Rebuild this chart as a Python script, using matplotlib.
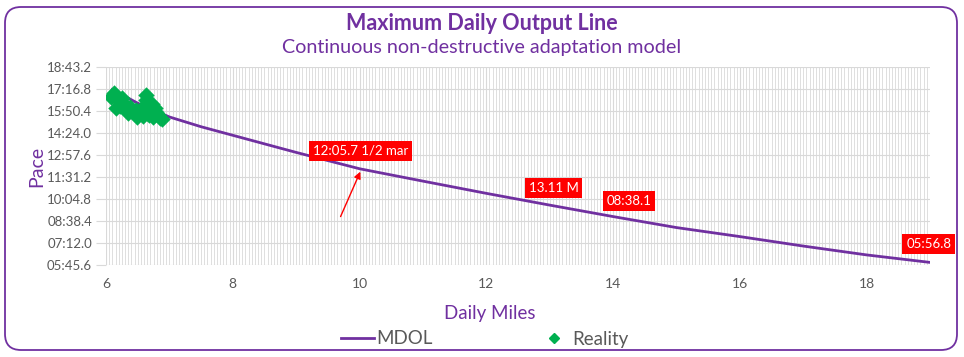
import numpy as np
import matplotlib.pyplot as plt
from matplotlib.ticker import FuncFormatter, MultipleLocator, FixedLocator
from matplotlib.patches import FancyBboxPatch
from matplotlib.lines import Line2D
from matplotlib.transforms import IdentityTransform

plt.rcParams['font.family'] = ['Lato', 'DejaVu Sans']

# MDOL line: daily miles vs pace (minutes per mile)
mdol_miles = [6.1, 6.5, 7.0, 7.5, 8.0, 8.74, 9.0, 10.0, 11.0, 12.0, 13.0, 14.0, 15.0, 16.0, 17.0, 18.0, 19.0]
mdol_pace = [17.25, 16.35, 15.45, 14.81, 14.25, 13.42, 13.13, 12.06, 11.25, 10.45, 9.68, 8.93, 8.21, 7.62, 7.0, 6.42, 5.93]

# Reality: observed daily miles vs pace
real_miles = [6.08, 6.13, 6.16, 6.19, 6.22, 6.25, 6.28, 6.33, 6.35, 6.38, 6.43, 6.47, 6.49,
              6.52, 6.57, 6.58, 6.60, 6.63, 6.63, 6.65, 6.68, 6.69, 6.72, 6.74, 6.77, 6.79,
              6.82, 6.85, 6.88]
real_pace = [16.76, 17.02, 16.04, 16.56, 16.17, 16.69, 16.30, 15.97, 15.71, 16.10, 15.77, 15.91, 15.45,
             15.71, 15.84, 15.51, 16.17, 16.56, 16.89, 15.71, 15.58, 16.04, 16.30, 15.45, 16.04, 15.77,
             15.58, 15.38, 15.32]

# data labels
label_miles = [10.02, 13.06, 14.25, 18.98]
label_texts = ['12:05.7 1/2 mar', '13.11 M', '08:38.1', '05:56.8']

purple = '#7030A0'
green = '#00B050'
grey = '#595959'
gridc = '#D9D9D9'

y_ticks = [5.76 + 1.44 * i for i in range(10)]


def pace_fmt(v, pos):
    m = int(v + 1e-9)
    s = (v - m) * 60
    return '%02d:%04.1f' % (m, abs(s))


fig = plt.figure(figsize=(9.64, 3.57), dpi=100)
ax = fig.add_axes([106 / 964, 1 - 265 / 357, 824 / 964, 198 / 357])

ax.plot(mdol_miles, mdol_pace, color=purple, lw=2, zorder=3)
ax.scatter(real_miles, real_pace, marker='D', s=70, color=green, linewidths=0, zorder=4)

ax.set_xlim(6, 19)
ax.set_ylim(5.76, 18.72)
ax.yaxis.set_major_locator(FixedLocator(y_ticks))
ax.yaxis.set_major_formatter(FuncFormatter(pace_fmt))
ax.xaxis.set_major_locator(MultipleLocator(2))
ax.xaxis.set_minor_locator(MultipleLocator(0.05))

ax.grid(which='major', axis='both', color=gridc, lw=0.8, zorder=0)
ax.grid(which='minor', axis='x', color=gridc, lw=0.6, zorder=0)
for sp in ax.spines.values():
    sp.set_visible(False)
ax.tick_params(axis='y', length=7, color=gridc, labelcolor=grey, labelsize=9.5, pad=3)
ax.tick_params(axis='x', which='both', length=0, labelcolor=grey, labelsize=10, pad=9)

ax.set_xlabel('Daily Miles', color=purple, fontsize=13.5, va='center')
ax.xaxis.set_label_coords((490 - 106) / 824, -(313 - 265) / 198)
ax.set_ylabel('Pace', color=purple, fontsize=14, va='center')
ax.yaxis.set_label_coords(-(106 - 37) / 824, 0.5)

fig.text(0.5, 1 - 23 / 357, 'Maximum Daily Output Line', ha='center', va='center',
         color=purple, fontsize=15.5, fontweight='bold')
fig.text(0.5, 1 - 48 / 357, 'Continuous non-destructive adaptation model', ha='center', va='center',
         color=purple, fontsize=14.2)

# red data labels just above the line
for mx, txt in zip(label_miles, label_texts):
    py = np.interp(mx, mdol_miles, mdol_pace)
    ax.annotate(txt, xy=(mx, py), xytext=(0, 18), textcoords='offset pixels',
                ha='center', va='center', color='white', fontsize=9.5,
                bbox=dict(boxstyle='square,pad=0.3', fc='#FF0000', ec='none'),
                annotation_clip=False, zorder=6)

# arrow pointing at half marathon
ax.annotate('', xy=(10.03, np.interp(10.03, mdol_miles, mdol_pace)), xytext=(-22, -50),
            textcoords='offset pixels',
            arrowprops=dict(arrowstyle='-|>', color='#FF0000', lw=1, mutation_scale=10), zorder=6)

handles = [Line2D([], [], color=purple, lw=2),
           Line2D([], [], color=green, marker='D', ls='none', markersize=5)]
fig.legend(handles, ['MDOL', 'Reality'], loc='center', bbox_to_anchor=(485 / 964, 1 - 339 / 357),
           ncol=2, frameon=False, fontsize=13.5, labelcolor=grey, columnspacing=5.6,
           handlelength=1.76, handletextpad=0.1)

border = FancyBboxPatch((5, 7), 952, 343, boxstyle='round,pad=0,rounding_size=16',
                        transform=IdentityTransform(), fc='none', ec=purple, lw=1.3)
fig.patches.append(border)

fig.savefig('out.png', dpi=100)
